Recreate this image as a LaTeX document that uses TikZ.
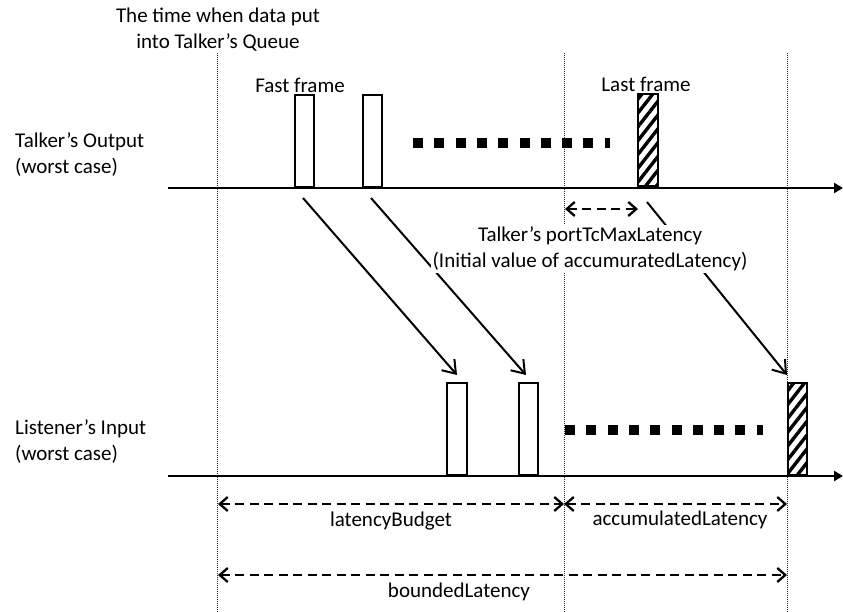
\documentclass[tikz,border=0pt]{standalone}
\usepackage{fontspec}
\setmainfont{Carlito}
\usetikzlibrary{arrows.meta,patterns.meta}
\begin{document}
\begin{tikzpicture}[x=1pt,y=-1pt,
  lbl/.style={font=\fontsize{21}{26}\selectfont, inner sep=0pt},
  axis/.style={line width=2.4pt, -{Triangle[length=9pt,width=10pt]}},
  guide/.style={line width=0.9pt, black!85, dash pattern=on 1pt off 1pt},
  frame/.style={draw, line width=2pt, minimum width=19pt, minimum height=92pt, inner sep=0pt, anchor=south west},
  hatched/.style={frame, pattern={Lines[angle=52,distance=8.5pt,line width=3.4pt]}},
  arr/.style={line width=2pt, -{Straight Barb[length=12pt,width=17pt]}},
  dim/.style={line width=2.3pt, dash pattern=on 9pt off 5.5pt, {Straight Barb[length=8pt,width=14pt]}-{Straight Barb[length=8pt,width=14pt]}},
  squares/.style={line width=10pt, dash pattern=on 10pt off 11.3pt}
]
\useasboundingbox (0,0) rectangle (843,612);

% guide lines
\coordinate (g1t) at (217,53); \coordinate (g1b) at (217,612);
\coordinate (g2t) at (564,53); \coordinate (g2b) at (564,612);
\coordinate (g3t) at (787,53); \coordinate (g3b) at (787,612);
\draw[guide] (g1t) -- (g1b);
\draw[guide] (g2t) -- (g2b);
\draw[guide] (g3t) -- (g3b);

% axes
\coordinate (ta0) at (168,188); \coordinate (ta1) at (843,188);
\coordinate (la0) at (168,476); \coordinate (la1) at (843,476);
\draw[axis] (ta0) -- (ta1);
\draw[axis] (la0) -- (la1);

% talker frames
\node[frame] (t1) at (294,188) {};
\node[frame] (t2) at (362,188) {};
\node[hatched, minimum width=20pt] (t3) at (636,188) {};
% listener frames
\node[frame, minimum width=20pt] (l1) at (446,476) {};
\node[frame] (l2) at (518,476) {};
\node[hatched] (l3) at (787,476) {};

% dotted square lines
\coordinate (sq1a) at (413,143); \coordinate (sq1b) at (610,143);
\coordinate (sq2a) at (565,430); \coordinate (sq2b) at (763,430);
\draw[squares] (sq1a) -- (sq1b);
\draw[squares] (sq2a) -- (sq2b);

% frame arrows
\coordinate (a1s) at (303,198); \coordinate (a1e) at (457,375);
\coordinate (a2s) at (371,198); \coordinate (a2e) at (526,375);
\coordinate (a3s) at (647,202); \coordinate (a3e) at (787,375);
\draw[arr] (a1s) -- (a1e);
\draw[arr] (a2s) -- (a2e);
\draw[arr] (a3s) -- (a3e);

% dimension arrows
\coordinate (p0) at (565,209); \coordinate (p1) at (638,209);
\draw[dim] (p0) -- (p1);
\coordinate (d0) at (218,504); \coordinate (d1) at (564,504); \coordinate (d2) at (787,504);
\draw[dim] (d0) -- (d1);
\draw[dim] (d1) -- (d2);
\coordinate (b0) at (218,575); \coordinate (b1) at (787,575);
\draw[dim] (b0) -- (b1);

% labels
\node[lbl, align=center] (queue) at (218,30) {The time when data put\\into Talker’s Queue};
\node[lbl] (fast) at (300,85) {Fast frame};
\node[lbl] (last) at (646,84) {Last frame};
\node[lbl, align=left, anchor=west] (tout) at (15,155) {Talker’s Output\\(worst case)};
\node[lbl, align=left, anchor=west] (lin) at (15,442) {Listener’s Input\\(worst case)};
\node[lbl, align=center, fill=white, inner sep=2pt] (port) at (590,249) {Talker’s portTcMaxLatency\\(Initial value of accumuratedLatency)};
\node[lbl] (lb) at (391,521) {latencyBudget};
\node[lbl] (al) at (680,520) {accumulatedLatency};
\node[lbl] (bl) at (459,592) {boundedLatency};
\end{tikzpicture}
\end{document}
